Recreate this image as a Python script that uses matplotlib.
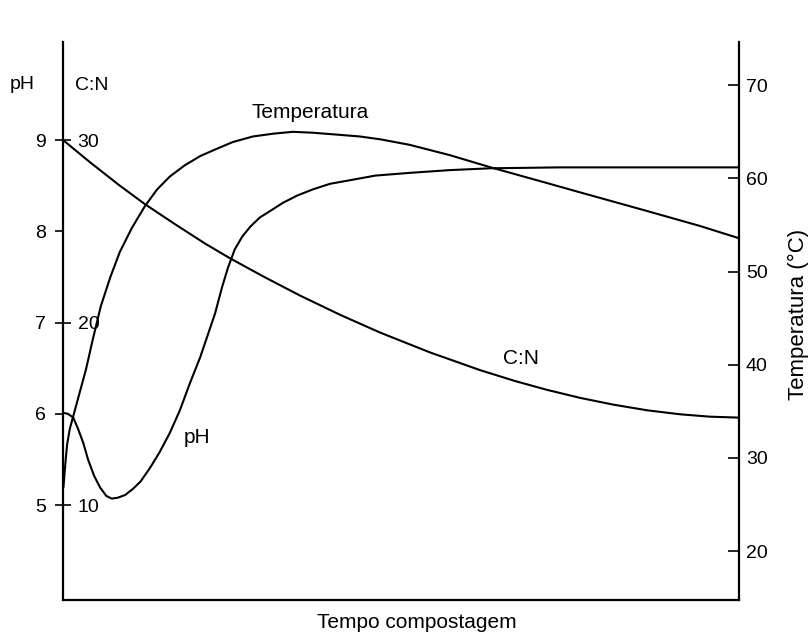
import matplotlib
matplotlib.use("Agg")
import matplotlib.pyplot as plt

plt.rcParams['font.family'] = ['Liberation Sans', 'DejaVu Sans']

# ---- data ----
time_ph = [0, 0.7, 1.5, 2.2, 3.0, 3.7, 4.6, 5.5, 6.4, 7.2,
           8.1, 9.2, 10.4, 11.5, 12.9, 14.3, 15.8, 17.3, 18.8, 20.3,
           21.4, 22.5, 23.5, 24.4, 25.4, 26.5, 27.7, 29.1, 30.6, 32.5,
           34.6, 37.0, 39.5, 42.5, 46.2, 51.3, 57.2, 63.2, 73.5, 86.8,
           99.9]
ph = [6.01, 6.00, 5.96, 5.84, 5.68, 5.50, 5.32, 5.19, 5.10, 5.07,
      5.08, 5.11, 5.18, 5.26, 5.41, 5.58, 5.79, 6.04, 6.34, 6.62,
      6.86, 7.10, 7.38, 7.60, 7.80, 7.94, 8.05, 8.15, 8.22, 8.31,
      8.39, 8.46, 8.52, 8.56, 8.61, 8.64, 8.67, 8.69, 8.70, 8.70,
      8.70]

time_cn = [0, 4.0, 8.4, 12.1, 16.6, 21.0, 24.7, 29.9, 35.1, 41.0, 46.9,
           54.3, 61.7, 66.9, 71.6, 76.5, 81.4, 86.4, 91.3, 95.7, 99.9]
cn = [30.00, 28.78, 27.50, 26.49, 25.38, 24.33, 23.52, 22.47, 21.47, 20.42,
      19.45, 18.36, 17.39, 16.79, 16.31, 15.87, 15.50, 15.19, 14.97, 14.84,
      14.79]

time_temp = [0.07, 0.3, 0.6, 1.0, 1.6, 2.5, 3.4, 4.4, 5.6, 7.0,
             8.4, 10.2, 12.1, 13.9, 15.8, 18.0, 20.3, 22.5, 25.1, 28.1,
             31.1, 34.0, 37.0, 40.5, 43.9, 46.9, 51.3, 57.2, 63.2, 71.6,
             76.5, 86.4, 94.2, 99.9]
temp = [26.9, 29.0, 31.4, 33.1, 34.7, 37.1, 39.5, 42.7, 46.3, 49.4,
        52.1, 54.7, 57.0, 58.8, 60.2, 61.4, 62.4, 63.1, 63.9, 64.5,
        64.8, 65.0, 64.9, 64.7, 64.5, 64.2, 63.6, 62.5, 61.2, 59.5,
        58.5, 56.5, 54.9, 53.6]

ph_ticks = [5, 6, 7, 8, 9]
cn_ticks = [10, 20, 30]
temp_ticks = [20, 30, 40, 50, 60, 70]

# ---- figure ----
fig = plt.figure(figsize=(8.08, 6.33), dpi=100)
ax = fig.add_axes([63 / 808, 33 / 633, 676 / 808, 558 / 633])
ax_cn = ax.twinx()
ax_t = ax.twinx()

ax.set_xlim(0, 100)
ax.set_ylim(3.959, 10.074)
ax_cn.set_ylim(4.795, 35.37)
ax_t.set_ylim(14.75, 74.64)

lw = 1.5
ax.plot(time_ph, ph, color='black', lw=lw)
ax_cn.plot(time_cn, cn, color='black', lw=lw)
ax_t.plot(time_temp, temp, color='black', lw=lw)

# spines
for s in ['top', 'right']:
    ax.spines[s].set_visible(False)
for s in ['left', 'bottom']:
    ax.spines[s].set_linewidth(1.6)
for s in ax_cn.spines.values():
    s.set_visible(False)
for s in ['top', 'left', 'bottom']:
    ax_t.spines[s].set_visible(False)
ax_t.spines['right'].set_linewidth(1.6)

# ticks
ax.set_xticks([])
ax.set_yticks(ph_ticks)
ax.set_yticklabels([str(v) for v in ph_ticks])
ax.tick_params(axis='y', direction='out', length=6, width=1.2, pad=6,
               labelsize=14)

ax_cn.yaxis.tick_left()
ax_cn.set_yticks(cn_ticks)
ax_cn.set_yticklabels([str(v) for v in cn_ticks])
ax_cn.tick_params(axis='y', direction='in', length=6, width=1.2, pad=-10.5,
                  labelsize=14)
plt.setp(ax_cn.get_yticklabels(), ha='left')

ax_t.set_yticks(temp_ticks)
ax_t.set_yticklabels([str(v) for v in temp_ticks])
ax_t.tick_params(axis='y', direction='in', length=8, width=1.2, pad=5,
                 labelsize=14)

# axis labels
ax.set_xlabel('Tempo compostagem', fontsize=15)
ax.xaxis.set_label_coords((417 - 63) / 676, -0.024)
ax_t.set_ylabel('Temperatura (°C)', fontsize=16)
ax_t.yaxis.set_label_coords((788 - 63) / 676, (600 - 314) / 558)

# annotations
ax.text(-6.1, 9.61, 'pH', ha='center', va='center', fontsize=14)
ax_cn.text(4.3, 33.0, 'C:N', ha='center', va='center', fontsize=14)
ax_t.text(36.5, 67.1, 'Temperatura', ha='center', va='center', fontsize=15)
ax.text(19.8, 5.745, 'pH', ha='center', va='center', fontsize=15)
ax_cn.text(67.75, 18.05, 'C:N', ha='center', va='center', fontsize=15)

fig.savefig('out.png', dpi=100)
